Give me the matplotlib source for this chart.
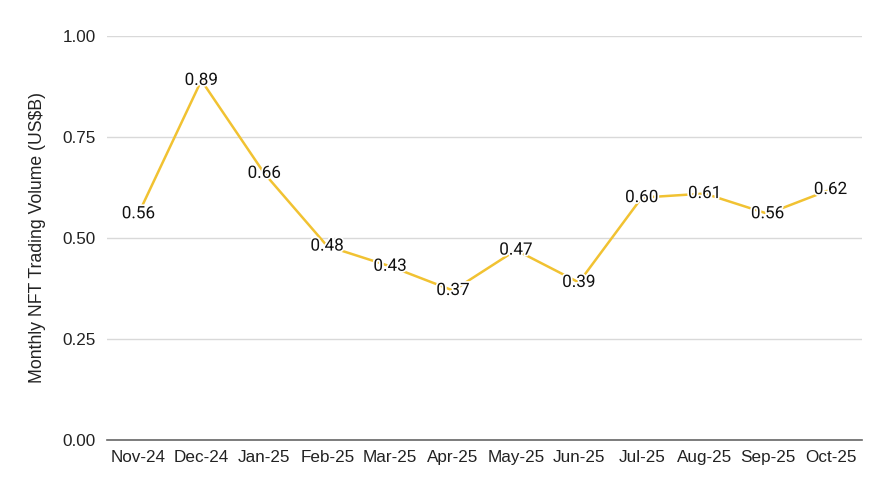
import matplotlib
matplotlib.use("Agg")
import matplotlib.pyplot as plt
import matplotlib.patheffects as pe

months = ["Nov-24", "Dec-24", "Jan-25", "Feb-25", "Mar-25", "Apr-25",
          "May-25", "Jun-25", "Jul-25", "Aug-25", "Sep-25", "Oct-25"]
volume = [0.56, 0.89, 0.66, 0.48, 0.43, 0.37, 0.47, 0.39, 0.60, 0.61, 0.56, 0.62]
yticks = [0.0, 0.25, 0.5, 0.75, 1.0]

plt.rcParams['font.family'] = ['Liberation Sans', 'DejaVu Sans']

fig = plt.figure(figsize=(8.92, 4.95), dpi=100)
ax = fig.add_axes([107 / 892, 1 - 440 / 495, 755 / 892, 404 / 495])

x = list(range(len(months)))
ax.plot(x, volume, color="#f1c232", lw=1.8, zorder=3)

for xi, v in zip(x, volume):
    ax.text(xi, v, "%.2f" % v, ha="center", va="center", fontsize=12.3,
            family="Roboto", color="#111111", zorder=4,
            path_effects=[pe.withStroke(linewidth=2.5, foreground="white")])

ax.set_xlim(-0.5, len(months) - 0.5)
ax.set_ylim(0, 1)
ax.set_yticks(yticks)
ax.set_yticklabels(["%.2f" % t for t in yticks])
ax.set_xticks(x)
ax.set_xticklabels(months)
ax.tick_params(axis="both", length=0, labelsize=12.3, colors="#222222")
ax.tick_params(axis="y", pad=8)
ax.tick_params(axis="x", pad=7)

ax.grid(axis="y", color="#d9d9d9", lw=1)
ax.set_axisbelow(True)
for s in ["top", "right", "left"]:
    ax.spines[s].set_visible(False)
ax.spines["bottom"].set_color("#666666")
ax.spines["bottom"].set_linewidth(1.2)

ax.set_ylabel("Monthly NFT Trading Volume (US$B)", fontsize=12.7, color="#222222", labelpad=12)

fig.savefig("out.png", dpi=100)
